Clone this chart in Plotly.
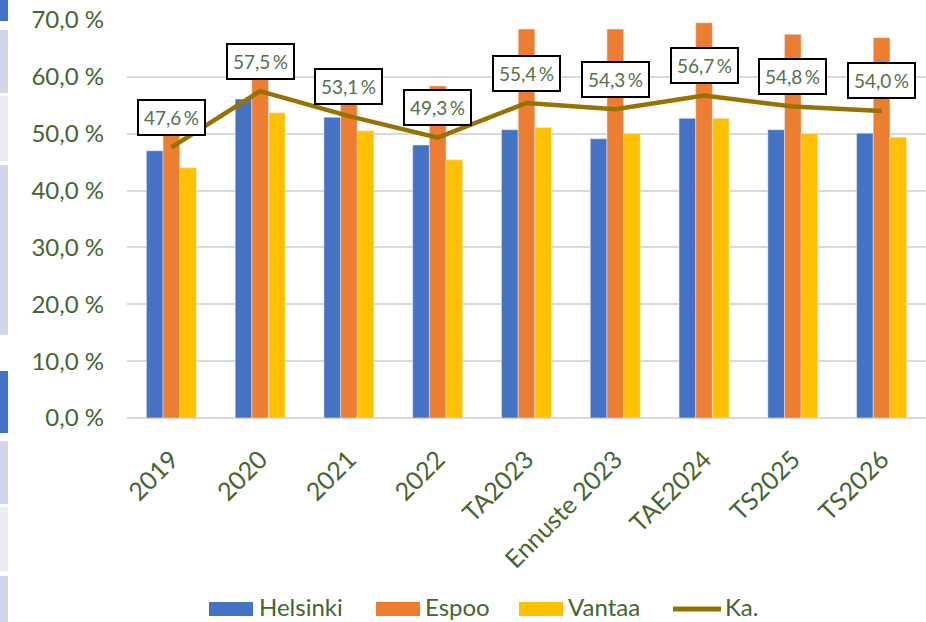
import plotly.graph_objects as go

categories = ["2019", "2020", "2021", "2022", "TA2023", "Ennuste 2023", "TAE2024", "TS2025", "TS2026"]
helsinki = [47.0, 56.1, 52.9, 48.0, 50.7, 49.1, 52.7, 50.7, 50.1]
espoo = [51.9, 62.5, 55.8, 58.4, 68.4, 68.4, 69.5, 67.5, 66.9]
vantaa = [44.0, 53.7, 50.5, 45.4, 51.1, 50.0, 52.7, 50.0, 49.4]
ka = [47.6, 57.5, 53.1, 49.3, 55.4, 54.3, 56.7, 54.8, 54.0]
y_tick_vals = [0, 10, 20, 30, 40, 50, 60, 70]
y_tick_text = ["0,0 %", "10,0 %", "20,0 %", "30,0 %", "40,0 %", "50,0 %", "60,0 %", "70,0 %"]
series_names = ["Helsinki", "Espoo", "Vantaa", "Ka."]
series_colors = ["#4472C4", "#ED7D31", "#FFC000", "#967200"]

FONT = "Lato, Open Sans, sans-serif"
TXT = "#436630"
LBL = "#55714A"

# plot-area geometry (pixels) used to place non-data decorations in paper coords
L, T, W, H = 127, 20, 799, 398
def px(x):
    return (x - L) / W
def py(y):
    return (T + H - y) / H

xpos = list(range(len(categories)))

fig = go.Figure()
for name, vals, col in zip(series_names[:3], [helsinki, espoo, vantaa], series_colors[:3]):
    fig.add_trace(go.Bar(name=name, x=xpos, y=vals, marker_color=col, showlegend=False))
fig.add_trace(go.Scatter(name=series_names[3], x=xpos, y=ka, mode="lines", showlegend=False,
                         line=dict(color=series_colors[3], width=4.5)))

for i, v in zip(xpos, ka):
    fig.add_annotation(x=i, y=v, text=f"{v:.1f}".replace(".", ",") + "\u2009%",
                       showarrow=False, yshift=30, yanchor="middle", xanchor="center",
                       font=dict(family=FONT, size=19, color=LBL),
                       bgcolor="white", bordercolor="black", borderwidth=2, borderpad=5)

# legend drawn below the plot (wide swatches as in the original)
legend_items = [(209, 253, 258), (376, 420, 424), (519, 563, 567), (673, 721, 724)]
for (s0, s1, tx), name, col in zip(legend_items, series_names, series_colors):
    if name == "Ka.":
        fig.add_shape(type="line", xref="paper", yref="paper", x0=px(s0), x1=px(s1),
                      y0=py(609), y1=py(609), line=dict(color=col, width=5))
    else:
        fig.add_shape(type="rect", xref="paper", yref="paper", x0=px(s0), x1=px(s1),
                      y0=py(616), y1=py(602), fillcolor=col, line_width=0)
    fig.add_annotation(xref="paper", yref="paper", x=px(tx), y=py(606), text=name,
                       showarrow=False, xanchor="left", yanchor="middle", borderpad=0,
                       font=dict(family=FONT, size=24, color=TXT))

# slide-edge decoration strip on the left
strip = [(0, 21, "#4472C4"), (30, 93, "#CFD5EA"), (96, 161, "#E9EBF5"), (165, 335, "#CFD5EA"),
         (371, 433, "#4472C4"), (441, 504, "#CFD5EA"), (507, 571, "#E9EBF5"), (576, 622, "#CFD5EA")]
for y0, y1, col in strip:
    fig.add_shape(type="rect", xref="paper", yref="paper",
                  x0=px(0), x1=px(8), y0=py(y1), y1=py(y0),
                  fillcolor=col, line_width=0, layer="below")

fig.update_layout(
    width=926, height=622,
    margin=dict(l=L, r=0, t=T, b=622 - T - H, autoexpand=False),
    plot_bgcolor="white", paper_bgcolor="white",
    barmode="group", bargap=0.437, bargroupgap=0,
    font=dict(family=FONT, size=24, color=TXT),
    showlegend=False,
)
fig.update_yaxes(range=[0, 70], tickvals=y_tick_vals, ticktext=y_tick_text,
                 showgrid=True, gridcolor="#D9D9D9", gridwidth=1.5,
                 zeroline=True, zerolinecolor="#D9D9D9", zerolinewidth=1.5,
                 ticks="", ticklabelstandoff=22,
                 tickfont=dict(family=FONT, size=24, color=TXT))
fig.update_xaxes(range=[-0.5, len(categories) - 0.5], tickvals=xpos, ticktext=categories,
                 tickangle=-45, ticks="outside", ticklen=16, tickcolor="rgba(0,0,0,0)",
                 showgrid=False, showline=False, zeroline=False,
                 tickfont=dict(family=FONT, size=25, color=TXT))

fig.write_html("out.html", config={"displayModeBar": False},
               post_script="document.body.style.margin='0';document.body.style.overflow='hidden';")
